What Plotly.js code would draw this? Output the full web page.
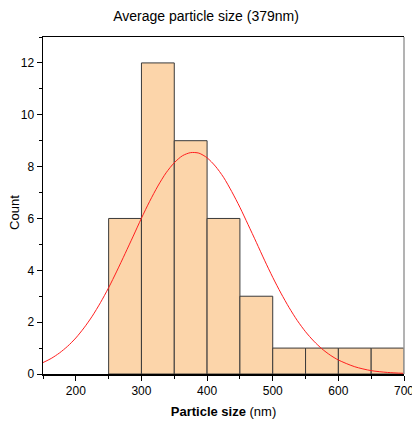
<!DOCTYPE html>
<html>
<head>
<meta charset="utf-8">
<script src="https://cdn.plot.ly/plotly-3.0.1.min.js"></script>
<style>html,body{margin:0;padding:0;background:#fff;}#chart{width:412px;height:423px;}</style>
</head>
<body>
<div id="chart"></div>
<script>
// Histogram bins (centers, nm) and counts
const binCenters = [275, 325, 375, 425, 475, 525, 575, 625, 675];
const binCounts = [6, 12, 9, 6, 3, 1, 1, 1, 1];
const binWidth = 50;

// Fitted normal curve
const fitX = [150, 162.5, 175, 187.5, 200, 212.5, 225, 237.5, 250, 262.5, 275, 287.5, 300, 312.5, 325, 337.5, 350, 362.5, 375, 387.5, 400, 412.5, 425, 437.5, 450, 462.5, 475, 487.5, 500, 512.5, 525, 537.5, 550, 562.5, 575, 587.5, 600, 625, 650, 675, 700];
const fitY = [0.44, 0.60, 0.81, 1.07, 1.39, 1.78, 2.23, 2.75, 3.33, 3.97, 4.64, 5.32, 6.01, 6.66, 7.25, 7.76, 8.15, 8.42, 8.54, 8.52, 8.34, 8.02, 7.59, 7.04, 6.43, 5.76, 5.08, 4.39, 3.73, 3.12, 2.56, 2.06, 1.63, 1.27, 0.97, 0.73, 0.54, 0.28, 0.13, 0.06, 0.025];

const xTicks = [200, 300, 400, 500, 600, 700];
const yTicks = [0, 2, 4, 6, 8, 10, 12];

const font = 'Liberation Sans, Arial, sans-serif';

const traces = [
  {
    type: 'bar',
    x: binCenters,
    y: binCounts,
    width: binCenters.map(() => binWidth),
    marker: {color: 'rgb(252,213,170)', line: {color: '#3a3a3a', width: 1}},
    hoverinfo: 'skip'
  },
  {
    type: 'scatter',
    mode: 'lines',
    x: fitX,
    y: fitY,
    line: {color: '#ff1f1f', width: 1, shape: 'spline', smoothing: 0.8},
    hoverinfo: 'skip'
  }
];

const layout = {
  width: 412,
  height: 423,
  margin: {l: 43, r: 8, t: 37, b: 49},
  paper_bgcolor: '#fff',
  plot_bgcolor: '#fff',
  showlegend: false,
  bargap: 0,
  font: {family: font, color: '#000', size: 12},
  title: {
    text: 'Average particle size (379nm)',
    font: {family: font, size: 14, color: '#000'},
    x: 0.5, xanchor: 'center', y: 0.963, yanchor: 'middle'
  },
  xaxis: {
    range: [150, 700],
    tickvals: xTicks,
    ticktext: xTicks.map(String),
    ticklabeloverflow: 'allow',
    ticks: 'outside', ticklen: 5, tickwidth: 1, tickcolor: '#000',
    minor: {dtick: 50, tick0: 150, ticks: 'outside', ticklen: 3, tickcolor: '#000', showgrid: false},
    showline: true, linecolor: '#000', linewidth: 1.5,
    mirror: true,
    showgrid: false, zeroline: false,
    tickfont: {family: font, size: 12, color: '#000'},
    title: {text: '<b>Particle size</b> (nm)', font: {family: font, size: 13, color: '#000'}, standoff: 10}
  },
  yaxis: {
    range: [0, 13],
    tickvals: yTicks,
    ticktext: yTicks.map(String),
    ticks: 'outside', ticklen: 5, tickwidth: 1, tickcolor: '#000',
    minor: {dtick: 1, tick0: 0, ticks: 'outside', ticklen: 3, tickcolor: '#000', showgrid: false},
    showline: true, linecolor: '#000', linewidth: 1.5,
    showgrid: false, zeroline: false,
    tickfont: {family: font, size: 12, color: '#000'}
  },
  annotations: [
    {text: 'Count', textangle: -90, xref: 'paper', yref: 'paper', x: 0, y: 0.478,
     xanchor: 'center', yanchor: 'middle', xshift: -28, showarrow: false,
     font: {family: font, size: 13, color: '#000'}}
  ],
  shapes: [
    {type: 'line', xref: 'paper', yref: 'paper', x0: 1, x1: 1, y0: 0, y1: 1,
     line: {color: '#9a9a9a', width: 1.5}}
  ]
};

Plotly.newPlot('chart', traces, layout, {staticPlot: true, displayModeBar: false});
</script>
</body>
</html>
